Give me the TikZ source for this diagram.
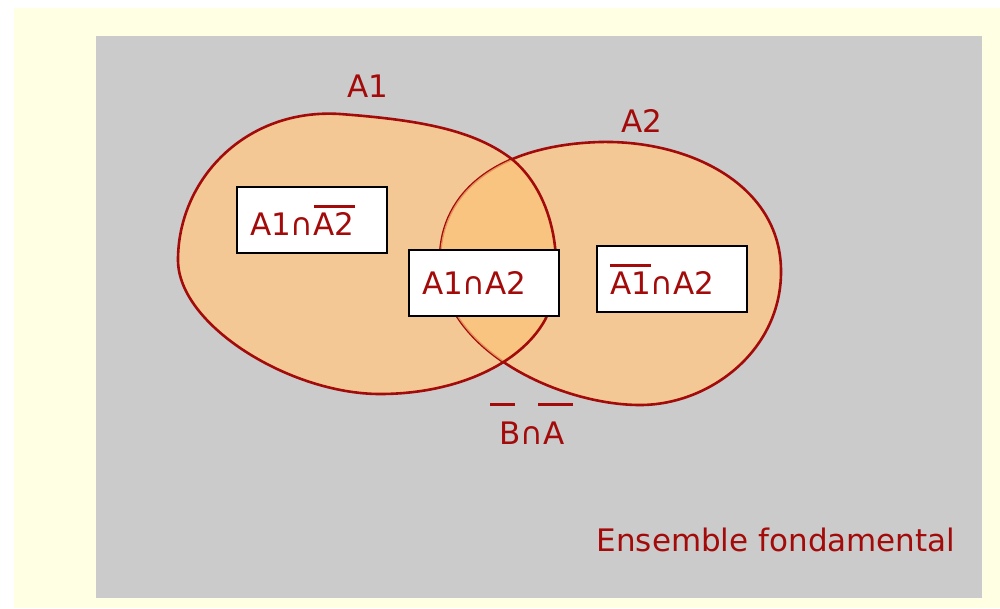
\documentclass[tikz,border=0pt]{standalone}
\usepackage{fontspec}
\setmainfont{DejaVu Sans}
\definecolor{PaleYellow}{HTML}{FFFFE4}
\definecolor{PlateGray}{HTML}{CBCBCB}
\definecolor{SetPeach}{HTML}{F4C894}
\definecolor{SetOrange}{HTML}{FCC27A}
\definecolor{SetRed}{HTML}{A30A0A}
\newcommand\barred[1]{\leavevmode\vbox{\hrule height 3pt\kern 5pt\hbox{#1}}}
\def\setAone{(178,260) .. controls (178,325) and (290,394) .. (380,394) .. controls (455,394) and (520,365) .. (545,320) .. controls (565,280) and (560,200) .. (513,160) .. controls (475,130) and (420,120) .. (340,114) .. controls (245,108) and (178,180) .. cycle}
\def\setAtwo{(440,260) .. controls (440,190) and (500,145) .. (600,142) .. controls (690,140) and (780,185) .. (781,270) .. controls (782,350) and (710,405) .. (640,405) .. controls (560,405) and (440,350) .. cycle}

\begin{document}
\begin{tikzpicture}[x=1pt,y=-1pt,
  setline/.style={SetRed,line width=2.6pt},
  cellbox/.style={draw=black,line width=1.8pt,fill=white,minimum height=66pt,text width=124pt,inner xsep=13pt,align=left,text=SetRed,font=\fontsize{31}{36}\selectfont},
  setlabel/.style={text=SetRed,font=\fontsize{31}{36}\selectfont}]
  \useasboundingbox (0,0) rectangle (1000,608);
  \fill[PaleYellow] (14,8) rectangle (1000,608);
  \fill[PlateGray] (96,36) rectangle (982,598);
  % the two sets
  \fill[SetPeach] \setAone;
  \fill[SetPeach] \setAtwo;
  \draw[setline] \setAtwo;
  \begin{scope}
    \clip \setAtwo;
    \fill[SetOrange,opacity=.75] \setAone;
  \end{scope}
  \draw[setline] \setAone;
  \node[setlabel] (labA1) at (368,86) {A1};
  \node[setlabel] (labA2) at (642,121) {A2};
  % the three parts
  \node[cellbox] (onlyA1) at (312,220) {A1∩\barred{A2}};
  \node[cellbox] (both) at (484,283) {A1∩A2};
  \node[cellbox] (onlyA2) at (672,279) {\barred{A1}∩A2};
  \node[setlabel] (outside) at (532,433) {B∩A};
  \draw[SetRed,line width=3pt] (490,404) -- (515,404);
  \draw[SetRed,line width=3pt] (538,404) -- (573,404);
  \node[setlabel] (universe) at (776,540) {Ensemble fondamental};
\end{tikzpicture}
\end{document}
